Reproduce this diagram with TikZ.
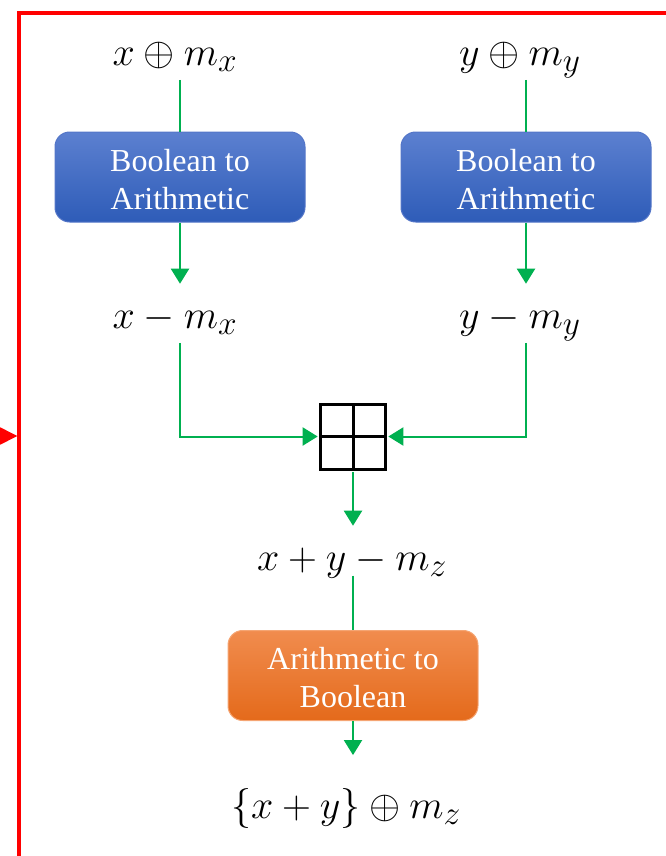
\documentclass[tikz,border=0pt]{standalone}
\usepackage{graphicx}
\usepackage{fontspec}
\setmainfont{Liberation Serif}
\usetikzlibrary{arrows.meta}
\definecolor{gline}{RGB}{0,176,80}
\definecolor{bluetop}{RGB}{92,128,208}
\definecolor{bluebot}{RGB}{46,92,184}
\definecolor{blueedge}{RGB}{84,118,200}
\definecolor{orangetop}{RGB}{241,140,78}
\definecolor{orangebot}{RGB}{228,106,27}
\definecolor{orangeedge}{RGB}{245,165,115}
\newcommand{\bigmath}[1]{\scalebox{1.206}{\Huge$#1$}}
\newcommand{\topstrut}{\rule{0pt}{20pt}}
\tikzset{
  frameline/.style={draw=red, line width=3pt},
  conn/.style={draw=gline, line width=1.5pt, -{Triangle[length=11.25pt,width=13.5pt]}},
  plainconn/.style={draw=gline, line width=1.5pt},
  procbox/.style={rounded corners=11pt, minimum width=187.5pt, minimum height=67.5pt,
    inner sep=0pt, text=white, align=center, line width=0.75pt,
    font=\fontsize{24}{28.5}\selectfont},
  bluebox/.style={procbox, draw=blueedge, top color=bluetop, bottom color=bluebot},
  orangebox/.style={procbox, draw=orangeedge, top color=orangetop, bottom color=orangebot},
  mathlbl/.style={inner sep=0pt, anchor=base, text height=33pt, text depth=11pt},
  adderbox/.style={draw=black, line width=2.25pt, minimum size=48.75pt, inner sep=0pt,
    path picture={
      \draw[line width=2.25pt] (path picture bounding box.north) -- (path picture bounding box.south);
      \draw[line width=2.25pt] (path picture bounding box.west) -- (path picture bounding box.east);
    }}
}
\begin{document}
\begin{tikzpicture}[x=0.75pt, y=-0.75pt]
\useasboundingbox (0,0) rectangle (666,856);
\clip (0,0) rectangle (666,856);

% red frame and incoming arrow
\draw[frameline] (18.7,880) -- (18.7,12.7) -- (690,12.7);
\coordinate (rin) at (-10,436);
\coordinate (rout) at (17.5,436);
\draw[red, line width=2pt, -{Triangle[length=13pt,width=12.5pt]}] (rin) -- (rout);

% labels
\node[mathlbl] (tx) at (175,65) {\bigmath{x \oplus m_x}};
\node[mathlbl] (ty) at (520,65) {\bigmath{y \oplus m_y}};
\node[mathlbl] (mx) at (175,328) {\bigmath{x - m_x}};
\node[mathlbl] (my) at (520,328) {\bigmath{y - m_y}};
\node[mathlbl] (sum) at (352,570) {\bigmath{x + y - m_z}};
\node[mathlbl] (fin) at (346,818) {\bigmath{\{x + y\} \oplus m_z}};

% boxes
\node[bluebox] (b1) at (180,177) {\topstrut Boolean to\\Arithmetic};
\node[bluebox] (b2) at (526,177) {\topstrut Boolean to\\Arithmetic};
\node[orangebox] (b3) at (353,675.5) {\topstrut Arithmetic to\\Boolean};
\node[adderbox] (add) at (353,436.5) {};

% connectors
\draw[plainconn] (tx.south -| b1.center) -- (b1.north);
\draw[plainconn] (ty.south -| b2.center) -- (b2.north);
\draw[conn] (b1.south) -- (mx.north -| b1.center);
\draw[conn] (b2.south) -- (my.north -| b2.center);
\draw[conn, shorten >=1pt] (mx.south -| b1.center) |- (add.west);
\draw[conn, shorten >=1pt] (my.south -| b2.center) |- (add.east);
\draw[conn, shorten <=1pt] (add.south) -- (sum.north -| add.center);
\draw[plainconn, shorten <=-7pt] (sum.south -| b3.center) -- (b3.north);
\draw[conn, shorten >=14pt] (b3.south) -- (fin.north -| b3.center);
\end{tikzpicture}
\end{document}
